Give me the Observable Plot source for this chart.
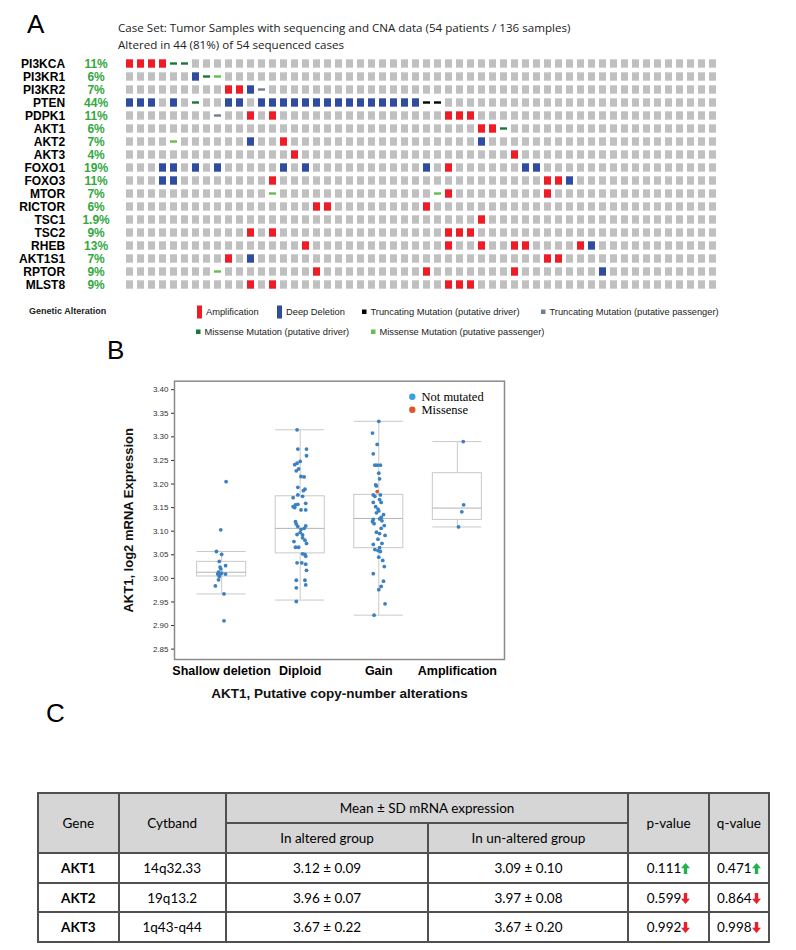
<!DOCTYPE html>
<html><head><meta charset="utf-8">
<script src="https://cdn.jsdelivr.net/npm/d3@7"></script>
<script src="https://cdn.jsdelivr.net/npm/@observablehq/plot@0.6"></script>
<style>
html,body{margin:0;padding:0;background:#fff;}
#page{position:relative;width:796px;height:950px;overflow:hidden;background:#fff;}
#page > *{position:absolute;}
table.t{border-collapse:collapse;table-layout:fixed;font-family:Lato,'Open Sans',sans-serif;font-size:13.5px;color:#000;}
table.t td{border:2px solid #505050;text-align:center;vertical-align:middle;padding:0;white-space:nowrap;}
table.t td.h{background:#d6d6d6;}
table.t td.g{font-weight:bold;}
</style></head><body><div id="page"></div>
<script>
// ---------------- Panel A data ----------------
const genes = ["PI3KCA","PI3KR1","PI3KR2","PTEN","PDPK1","AKT1","AKT2","AKT3","FOXO1","FOXO3","MTOR","RICTOR","TSC1","TSC2","RHEB","AKT1S1","RPTOR","MLST8"];
const pctLabels = ["11%","6%","7%","44%","11%","6%","7%","4%","19%","11%","7%","6%","1.9%","9%","13%","7%","9%","9%"];
const nCases = 54;
const amplified = [["PI3KCA",[0,1,2,3]],["PI3KR2",[9,10]],["PDPK1",[11,13,29,30,31]],["AKT1",[32,33]],["AKT2",[14]],["AKT3",[15,35]],["FOXO1",[29]],["FOXO3",[13,38,39]],["MTOR",[29,38]],["RICTOR",[17,18,27]],["TSC1",[32]],["TSC2",[11,13,29,30,31]],["RHEB",[16,29,32,35,36,41]],["AKT1S1",[9,38,39]],["RPTOR",[17,27,35]],["MLST8",[11,13,29,30,31]]];
const deepDeleted = [["PI3KR1",[6]],["PI3KR2",[11]],["PTEN",[0,1,2,4,9,10,12,13,14,15,16,17,18,19,20,21,22,23,24,25,26]],["AKT2",[11,32]],["FOXO1",[3,4,6,8,14,16,27,36,37]],["FOXO3",[3,4,40]],["RHEB",[42]],["AKT1S1",[11]],["RPTOR",[43]]];
const truncDriver = [["PTEN",[27,28]]];
const truncPassenger = [["PI3KR2",[12]],["PDPK1",[8]]];
const missDriver = [["PI3KCA",[4,5]],["PI3KR1",[7]],["PTEN",[6]],["AKT1",[34]]];
const missPassenger = [["PI3KR1",[8]],["AKT2",[4]],["MTOR",[13,28]],["RPTOR",[8]]];

// ---------------- Panel B data ----------------
const cnaCats = ["Shallow deletion","Diploid","Gain","Amplification"];
const yTicks = [2.85,2.90,2.95,3.00,3.05,3.10,3.15,3.20,3.25,3.30,3.35,3.40];
const boxLo  = [2.967,2.954,2.922,3.109];
const boxQ1  = [3.004,3.053,3.064,3.124];
const boxMed = [3.013,3.106,3.127,3.149];
const boxQ3  = [3.035,3.174,3.177,3.223];
const boxHi  = [3.057,3.315,3.333,3.290];
const shallowVals = [3.205,3.103,3.057,3.051,3.036,3.027,3.024,3.020,3.013,3.011,3.009,3.008,3.009,3.004,2.997,2.984,2.967,2.910];
const shallowJit  = [0.057,-0.011,-0.066,0,-0.03,0.05,-0.02,-0.01,-0.04,0,-0.05,-0.02,0.05,-0.03,-0.04,-0.08,0.03,0.03];
const diploidVals = [3.315,3.274,3.274,3.260,3.248,3.244,3.241,3.232,3.228,3.216,3.215,3.193,3.189,3.186,3.177,3.174,3.171,3.159,3.157,3.156,3.152,3.150,3.145,3.145,3.120,3.115,3.110,3.111,3.106,3.104,3.097,3.093,3.092,3.086,3.081,3.078,3.074,3.066,3.066,3.052,3.051,3.047,3.033,3.033,3.030,3.017,2.996,2.996,2.986,2.980,2.951];
const diploidJit  = [-0.04,-0.03,0.08,0.08,0,-0.04,-0.07,-0.02,-0.05,0.01,0.05,-0.03,0.06,0.04,-0.03,0.03,-0.09,0.07,-0.03,-0.06,-0.09,-0.07,0.01,0.07,-0.06,-0.05,-0.03,0.07,0.05,0.01,0,-0.04,0.03,0.03,0.06,-0.08,0.08,-0.06,-0.02,0.03,0.06,0.07,-0.04,0.02,0.07,0.08,-0.05,0.06,0.07,-0.05,-0.05];
const gainVals = [3.333,3.308,3.284,3.264,3.240,3.240,3.240,3.223,3.211,3.198,3.196,3.177,3.174,3.177,3.167,3.161,3.161,3.152,3.147,3.143,3.139,3.135,3.129,3.125,3.126,3.120,3.122,3.116,3.112,3.106,3.098,3.095,3.091,3.083,3.074,3.072,3.065,3.061,3.059,3.057,3.045,3.038,3.025,3.010,2.994,2.983,2.976,2.946,2.922];
const gainJit  = [0,-0.08,-0.02,-0.07,-0.05,-0.02,0.02,0,0.01,-0.04,-0.03,-0.07,-0.05,0.02,0.01,0.03,-0.07,-0.04,-0.01,0,-0.03,0.06,0.03,-0.07,0.01,-0.08,0.04,-0.06,0.07,0.03,-0.03,0.01,0.08,-0.01,0.04,-0.07,0.01,-0.05,-0.01,0.02,0,0.05,0.07,-0.07,0.06,0.03,0,0.08,-0.06];
const gainMissenseVals = [3.184];
const gainMissenseJit  = [-0.02];
const ampVals = [3.290,3.156,3.141,3.109];
const ampJit  = [0.075,0.08,0.057,0.015];

// ---------------- Panel C data ----------------
const tblGenes = ["AKT1","AKT2","AKT3"];
const tblCytband = ["14q32.33","19q13.2","1q43-q44"];
const tblAltered = ["3.12 ± 0.09","3.96 ± 0.07","3.67 ± 0.22"];
const tblUnaltered = ["3.09 ± 0.10","3.97 ± 0.08","3.67 ± 0.20"];
const tblP = ["0.111","0.599","0.992"];
const tblQ = ["0.471","0.864","0.998"];
const tblDir = ["up","down","down"];

// ================= build =================
const page = document.getElementById("page");
const COL = {amp:"#ee1c25", del:"#2f4ca1", bg:"#c0c0c0", td:"#000000", tp:"#6f7f91", md:"#167a36", mp:"#64be4d"};

function flat(list, type){ const out=[]; for (const [g,cs] of list) for (const c of cs) out.push({gene:g, c, type}); return out; }
const ampRows = flat(amplified,"amp"), delRows = flat(deepDeleted,"del");
const tdRows = flat(truncDriver,"td"), tpRows = flat(truncPassenger,"tp"), mdRows = flat(missDriver,"md"), mpRows = flat(missPassenger,"mp");
const taken = new Set([...ampRows,...delRows,...tdRows,...tpRows,...mdRows,...mpRows].map(d=>d.gene+"|"+d.c));
const caseIdx = d3.range(nCases);
const bgRows = genes.flatMap(g => caseIdx.map(c => ({gene:g, c}))).filter(d => !taken.has(d.gene+"|"+d.c));
const pctRows = genes.map((g,i)=>({gene:g, pct:pctLabels[i]}));

const cw = 11.27, rh = 13.35, ax0 = 116.6, ay0 = 54.3, aH = 300;
const full = {insetLeft:2, insetRight:2, insetTop:2.3, insetBottom:2.3};
const dash = {insetLeft:2, insetRight:2, insetTop:5.3, insetBottom:5.3};
const plotA = Plot.plot({
  width:796, height:aH,
  marginLeft:ax0, marginRight:796-ax0-nCases*cw, marginTop:ay0, marginBottom:aH-ay0-genes.length*rh,
  x:{type:"band", domain:caseIdx, padding:0, axis:null},
  y:{type:"band", domain:genes, padding:0},
  style:{fontFamily:"Arial, 'Liberation Sans', sans-serif", background:"transparent", color:"#000"},
  marks:[
    Plot.cell(bgRows, {x:"c", y:"gene", fill:COL.bg, ...full}),
    Plot.cell(ampRows, {x:"c", y:"gene", fill:COL.amp, ...full}),
    Plot.cell(delRows, {x:"c", y:"gene", fill:COL.del, ...full}),
    Plot.cell(tdRows, {x:"c", y:"gene", fill:COL.td, ...dash}),
    Plot.cell(tpRows, {x:"c", y:"gene", fill:COL.tp, ...dash}),
    Plot.cell(mdRows, {x:"c", y:"gene", fill:COL.md, ...dash}),
    Plot.cell(mpRows, {x:"c", y:"gene", fill:COL.mp, ...dash}),
    Plot.axisY({tickSize:0, tickPadding:52, fontSize:12, fontWeight:"bold", label:null}),
    Plot.text(pctRows, {y:"gene", text:"pct", frameAnchor:"left", dx:-21, textAnchor:"middle", fill:"#34a840", fontWeight:"bold", fontSize:12})
  ]
});
plotA.style.left = "0px"; plotA.style.top = "0px";
page.appendChild(plotA);

// Panel B
function pts(vals, jit, i){ return vals.map((v,k)=>({x:i+jit[k], y:v})); }
const dotsMain = [...pts(shallowVals,shallowJit,0), ...pts(diploidVals,diploidJit,1), ...pts(gainVals,gainJit,2), ...pts(ampVals,ampJit,3)];
const dotsMiss = pts(gainMissenseVals, gainMissenseJit, 2);
const boxes = cnaCats.map((c,i)=>({i, lo:boxLo[i], q1:boxQ1[i], med:boxMed[i], q3:boxQ3[i], hi:boxHi[i]}));
const hw = 0.312;
const bTop = 330, bH = 380;
const boxStroke = "#c9c9c9";
const plotB = Plot.plot({
  width:560, height:bH,
  marginLeft:174, marginRight:56, marginTop:50.7, marginBottom:bH-50.7-278.3,
  x:{domain:[-0.6,3.6]},
  y:{domain:[2.828,3.418]},
  style:{fontFamily:"Arial, 'Liberation Sans', sans-serif", background:"transparent", color:"#000"},
  marks:[
    Plot.ruleX(boxes, {x:"i", y1:"q3", y2:"hi", stroke:boxStroke}),
    Plot.ruleX(boxes, {x:"i", y1:"lo", y2:"q1", stroke:boxStroke}),
    Plot.ruleY(boxes, {y:"hi", x1:d=>d.i-hw, x2:d=>d.i+hw, stroke:boxStroke}),
    Plot.ruleY(boxes, {y:"lo", x1:d=>d.i-hw, x2:d=>d.i+hw, stroke:boxStroke}),
    Plot.rect(boxes, {x1:d=>d.i-hw, x2:d=>d.i+hw, y1:"q1", y2:"q3", fill:"none", stroke:boxStroke}),
    Plot.ruleY(boxes, {y:"med", x1:d=>d.i-hw, x2:d=>d.i+hw, stroke:"#b3b3b3"}),
    Plot.dot(dotsMain, {x:"x", y:"y", r:1.9, fill:"#3b80c1", stroke:"none"}),
    Plot.dot(dotsMiss, {x:"x", y:"y", r:1.9, fill:"#d9542b", stroke:"none"}),
    Plot.frame({stroke:"#8a8a8a", strokeWidth:1.5}),
    Plot.axisY({ticks:yTicks, tickFormat:d3.format(".2f"), tickSize:3, tickPadding:3, fontSize:8, color:"#333", label:null}),
    Plot.axisX({ticks:[0,1,2,3], tickFormat:i=>cnaCats[i], tickSize:0, tickPadding:7, fontSize:12.5, fontWeight:"bold", label:null}),
    Plot.text(["AKT1, Putative copy-number alterations"], {frameAnchor:"bottom", dy:34, textAnchor:"middle", lineAnchor:"middle", fontSize:13.5, fontWeight:"bold", fill:"#111"}),
    Plot.text(["AKT1, log2 mRNA Expression"], {frameAnchor:"left", dx:-46, rotate:-90, textAnchor:"middle", lineAnchor:"middle", fontSize:13, fontWeight:"bold", fill:"#111"})
  ]
});
plotB.style.left = "0px"; plotB.style.top = bTop + "px";
page.appendChild(plotB);

// Panel C table
const arrow = dir => dir === "up"
  ? '<svg width="9" height="11" viewBox="0 0 9 11" style="vertical-align:-1px"><path d="M4.5 0L9 5.2H6.2V11H2.8V5.2H0Z" fill="#22b14c"/></svg>'
  : '<svg width="9" height="11" viewBox="0 0 9 11" style="vertical-align:-1px"><path d="M4.5 11L9 5.8H6.2V0H2.8V5.8H0Z" fill="#e8202a"/></svg>';
let html = '<colgroup><col style="width:80.6px"><col style="width:107.1px"><col style="width:202.8px"><col style="width:200px"><col style="width:80.2px"><col style="width:60.3px"></colgroup>';
html += '<tr style="height:30px"><td class="h" rowspan="2">Gene</td><td class="h" rowspan="2">Cytband</td><td class="h" colspan="2">Mean ± SD mRNA expression</td><td class="h" rowspan="2">p-value</td><td class="h" rowspan="2">q-value</td></tr>';
html += '<tr style="height:30px"><td class="h">In altered group</td><td class="h">In un-altered group</td></tr>';
tblGenes.forEach((g,i)=>{
  html += `<tr style="height:29.7px"><td class="g">${g}</td><td>${tblCytband[i]}</td><td>${tblAltered[i]}</td><td>${tblUnaltered[i]}</td><td>${tblP[i]}${arrow(tblDir[i])}</td><td>${tblQ[i]}${arrow(tblDir[i])}</td></tr>`;
});
const tbl = document.createElement("table");
tbl.className = "t"; tbl.innerHTML = html;
tbl.style.left = "37px"; tbl.style.top = "792px"; tbl.style.width = "731px";
page.appendChild(tbl);

// Overlay: titles and legends
const svg = d3.create("svg").attr("width",796).attr("height",950).style("left","0px").style("top","0px").style("pointer-events","none");
const txt = (s,x,y,o={}) => svg.append("text").attr("x",x).attr("y",y).attr("font-family",o.ff||"Arial, 'Liberation Sans', sans-serif").attr("font-size",o.fs||10).attr("font-weight",o.fw||"normal").attr("fill",o.fill||"#000").attr("text-anchor",o.ta||"start").text(s);
txt("A", 27, 33.3, {fs:26});
txt("Case Set: Tumor Samples with sequencing and CNA data (54 patients / 136 samples)", 118, 32.3, {ff:"'Open Sans', sans-serif", fs:11.6, fill:"#222"});
txt("Altered in 44 (81%) of 54 sequenced cases", 118, 49, {ff:"'Open Sans', sans-serif", fs:11.6, fill:"#222"});
// legend A
txt("Genetic Alteration", 29, 314, {fs:9, fw:"bold", fill:"#222"});
const lg = [
  {kind:"bar", c:COL.amp, x:197, y:312, t:"Amplification"},
  {kind:"bar", c:COL.del, x:277, y:312, t:"Deep Deletion"},
  {kind:"sq", c:COL.td, x:362, y:312, t:"Truncating Mutation (putative driver)"},
  {kind:"sq", c:COL.tp, x:541, y:312, t:"Truncating Mutation (putative passenger)"},
  {kind:"sq", c:COL.md, x:196, y:332, t:"Missense Mutation (putative driver)"},
  {kind:"sq", c:COL.mp, x:371, y:332, t:"Missense Mutation (putative passenger)"}
];
for (const d of lg){
  if (d.kind==="bar") { svg.append("rect").attr("x",d.x).attr("y",d.y-6.5).attr("width",5).attr("height",13).attr("fill",d.c); txt(d.t, d.x+9, d.y+3.2, {fs:9.3, fill:"#222"}); }
  else { svg.append("rect").attr("x",d.x).attr("y",d.y-2.5).attr("width",4.5).attr("height",4.5).attr("fill",d.c); txt(d.t, d.x+8.5, d.y+3.2, {fs:9.3, fill:"#222"}); }
}
txt("B", 107, 359, {fs:26});
svg.append("circle").attr("cx",412.3).attr("cy",396.7).attr("r",3.2).attr("fill","#3aa0dc");
txt("Not mutated", 421.5, 401.3, {ff:"'Liberation Serif', 'DejaVu Serif', serif", fs:12.5});
svg.append("circle").attr("cx",412.3).attr("cy",409.7).attr("r",3.2).attr("fill","#e0532b");
txt("Missense", 421.5, 414.3, {ff:"'Liberation Serif', 'DejaVu Serif', serif", fs:12.5});
txt("C", 46, 722, {fs:26});
page.appendChild(svg.node());
</script></body></html>
